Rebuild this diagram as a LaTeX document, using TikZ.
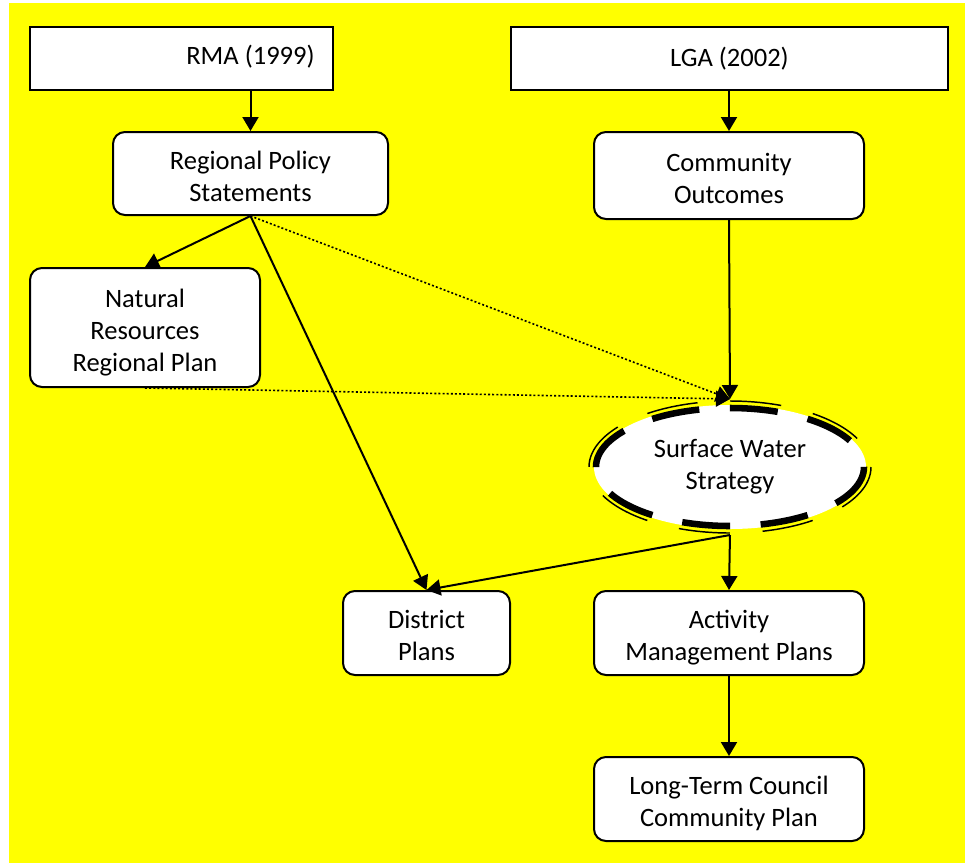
\documentclass[tikz,border=0pt]{standalone}
\usepackage{fontspec}
\setmainfont{Carlito}
\usetikzlibrary{arrows.meta,shapes.geometric}
\definecolor{bgyellow}{RGB}{255,255,0}
\newdimen\unitpx \unitpx=0.75pt
\newcommand\topfill{\rule{0pt}{22.5pt}}
\newcommand\botfill{\rule[-5.25pt]{0pt}{5.25pt}}
\tikzset{
  plainbox/.style={draw,fill=white,line width=1.5pt,inner sep=0pt,align=center},
  roundbox/.style={plainbox,rounded corners=9pt},
  flow/.style={line width=1.5pt,-{Triangle[length=10.5pt,width=12pt]}},
  hint/.style={flow,line width=1.2pt,dash pattern=on 1.5pt off 1.6pt},
}

\begin{document}
\begin{tikzpicture}[x=0.75pt,y=-0.75pt,font=\fontsize{19.9pt}{24pt}\selectfont]
  \useasboundingbox (0,0) rectangle (968,865);
  \fill[bgyellow] (9,3) rectangle (965,863);

  % ===== acts =====
  \node[plainbox,minimum width=303\unitpx,minimum height=63\unitpx] (rma) at (181.5,58.5){};
  \node[plainbox,minimum width=437\unitpx,minimum height=63\unitpx] (lga) at (729.5,58.5){LGA (2002)};

  % ===== regional side =====
  \node[roundbox,minimum width=275\unitpx,minimum height=83\unitpx] (rps) at (250.5,173.5){\topfill Regional Policy\\Statements\botfill};
  \node (rmatext) at ([yshift=1.5\unitpx]rma.center -| rps.center){RMA (1999)};
  \node[roundbox,minimum width=230\unitpx,minimum height=119\unitpx] (nrrp) at (145,327.5){\topfill Natural\\Resources\\Regional Plan\botfill};
  \node[roundbox,minimum width=167\unitpx,minimum height=84\unitpx] (dp) at (426.5,633){\topfill District\\Plans\botfill};

  % ===== council side =====
  \node[roundbox,minimum width=270\unitpx,minimum height=87\unitpx] (co) at (729,175.5){\topfill Community\\Outcomes\botfill};
  \node[ellipse,fill=white,inner sep=0pt,outer sep=6\unitpx,align=center,
        minimum width=272\unitpx,minimum height=124\unitpx] (sws) at (730,467){Surface Water\\Strategy};
  \draw[line width=4.9pt,dash pattern=on 36pt off 23pt] (sws.center) ellipse [x radius=134,y radius=59];
  \draw[line width=1.1pt,dash pattern=on 38.5pt off 24.5pt] (sws.center) ellipse [x radius=141,y radius=66];
  \node[roundbox,minimum width=270\unitpx,minimum height=84\unitpx] (amp) at (729,633){\topfill Activity\\Management Plans\botfill};
  \node[roundbox,minimum width=270\unitpx,minimum height=84\unitpx] (ltccp) at (729,799){\topfill Long-Term Council\\Community Plan\botfill};

  % ===== links =====
  \draw[flow] (rps.north |- rma.south) -- (rps.north);
  \draw[flow] (co.north |- lga.south) -- (co.north);
  \draw[flow] (rps.south) -- (nrrp.north);
  \draw[flow] (rps.south) -- (dp.north);
  \draw[hint] (rps.south) -- (sws.north);
  \draw[hint] (nrrp.south) -- (sws.north);
  \draw[flow] (co.south) -- (sws.north);
  \draw[flow] (sws.south) -- (amp.north);
  \draw[flow] (sws.south) -- (dp.north);
  \draw[flow] (amp.south) -- (ltccp.north);
\end{tikzpicture}
\end{document}
